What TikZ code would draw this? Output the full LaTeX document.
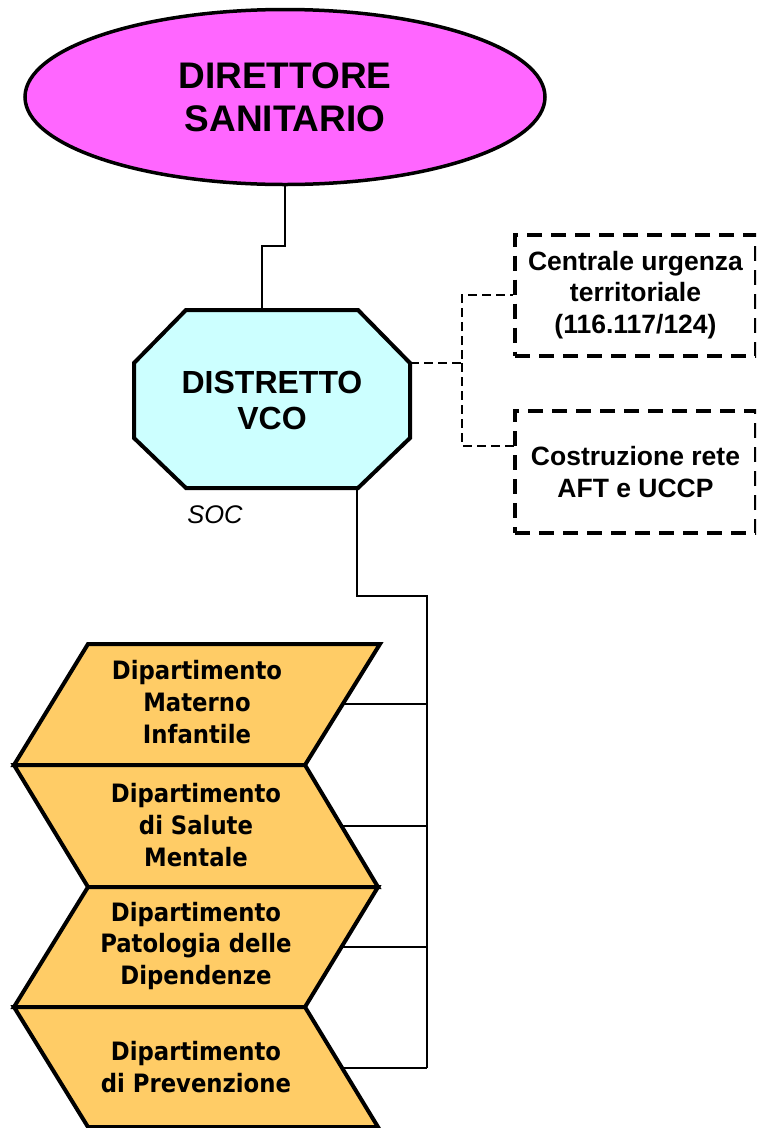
\documentclass[tikz,border=0pt]{standalone}
\usepackage{fontspec}
\setmainfont{Liberation Sans}
\newfontfamily\deptfont{DejaVu Sans Condensed}
\usetikzlibrary{shapes.geometric}
\definecolor{magentafill}{HTML}{FF66FF}
\definecolor{cyanfill}{HTML}{CCFFFF}
\definecolor{deptfill}{HTML}{FFCC66}
\pgfdeclarelayer{background}
\pgfsetlayers{background,main}
\tikzset{
  conn/.style={draw=black, line width=2.3pt},
  dconn/.style={draw=black, line width=2.6pt, dash pattern=on 9pt off 5pt},
  shapeline/.style={draw=black, line width=4pt, line join=miter},
  dbox/.style={draw=black, line width=4pt, dash pattern=on 15pt off 9pt, rectangle, align=center, inner sep=0pt},
  depttext/.style={align=center, font=\deptfont\bfseries\fontsize{25.3}{31.7}\selectfont, inner sep=0pt},
}
\begin{document}
\begin{tikzpicture}[x=1pt,y=-1pt]
\useasboundingbox (0,0) rectangle (756,1128);
\clip (0,0) rectangle (756,1128);

% Direttore sanitario
\node[ellipse, shapeline, line width=3.5pt, fill=magentafill, minimum width=520pt, minimum height=175pt, inner sep=0pt,
      align=center, font=\bfseries\fontsize{37}{43}\selectfont] (dir) at (285,97) {DIRETTORE\\SANITARIO};

% Distretto VCO (octagon)
\path[shapeline, fill=cyanfill] (186,310) -- (358,310) -- (410,363) -- (410,438) -- (358,488) -- (186,488) -- (134,438) -- (134,363) -- cycle;
\node[align=center, inner sep=0pt, font=\bfseries\fontsize{32}{36}\selectfont] (distr) at (272,400) {DISTRETTO\\VCO};
\coordinate (distrTop) at (262,310);
\coordinate (distrRight) at (410,363);
\coordinate (distrBot) at (357,488);
\node[inner sep=0pt, font=\itshape\fontsize{25.5}{30}\selectfont] (soc) at (215,515) {SOC};

% dashed boxes
\node[dbox, minimum width=241pt, minimum height=121pt, font=\bfseries\fontsize{26.5}{31.5}\selectfont] (cut) at (635.5,295)
  {Centrale urgenza\\territoriale\\(116.117/124)};
\node[dbox, minimum width=241pt, minimum height=122pt, font=\bfseries\fontsize{26.5}{31.5}\selectfont] (aft) at (635.5,472)
  {Costruzione rete\\AFT e UCCP};
\coordinate (aftIn) at (515,446);

% departments
\path[shapeline, fill=deptfill] (88,644) -- (380,644) -- (305,765) -- (14,765) -- cycle;
\path[shapeline, fill=deptfill] (14,765) -- (305,765) -- (378,887) -- (88,887) -- cycle;
\path[shapeline, fill=deptfill] (88,887) -- (378,887) -- (305,1007) -- (14,1007) -- cycle;
\path[shapeline, fill=deptfill] (14,1007) -- (305,1007) -- (378,1127) -- (88,1127) -- cycle;
\node[depttext] (d1) at (197,702) {Dipartimento\\Materno\\Infantile};
\node[depttext] (d2) at (196,825) {Dipartimento\\di Salute\\Mentale};
\node[depttext] (d3) at (196,946) {Dipartimento\\Patologia delle\\Dipendenze};
\node[depttext] (d4) at (196,1067) {Dipartimento\\di Prevenzione};
\coordinate (d1r) at (343,704);
\coordinate (d2r) at (341,826);
\coordinate (d3r) at (342,947);
\coordinate (d4r) at (341,1068);
\coordinate (busTop) at (427,596);
\coordinate (busBot) at (427,1068);

\begin{pgfonlayer}{background}
\draw[conn] (dir.south) -- (dir.south |- 0,246) -| (distrTop);
\draw[dconn] (distrRight) -- (462,363) |- (cut.west);
\draw[dconn] (462,363) |- (aftIn);
\draw[conn] (distrBot) |- (busTop) -- (busBot);
\draw[conn] (d1r) -- (d1r -| busTop);
\draw[conn] (d2r) -- (d2r -| busTop);
\draw[conn] (d3r) -- (d3r -| busTop);
\draw[conn] (d4r) -- (d4r -| busTop);
\end{pgfonlayer}
\end{tikzpicture}
\end{document}
